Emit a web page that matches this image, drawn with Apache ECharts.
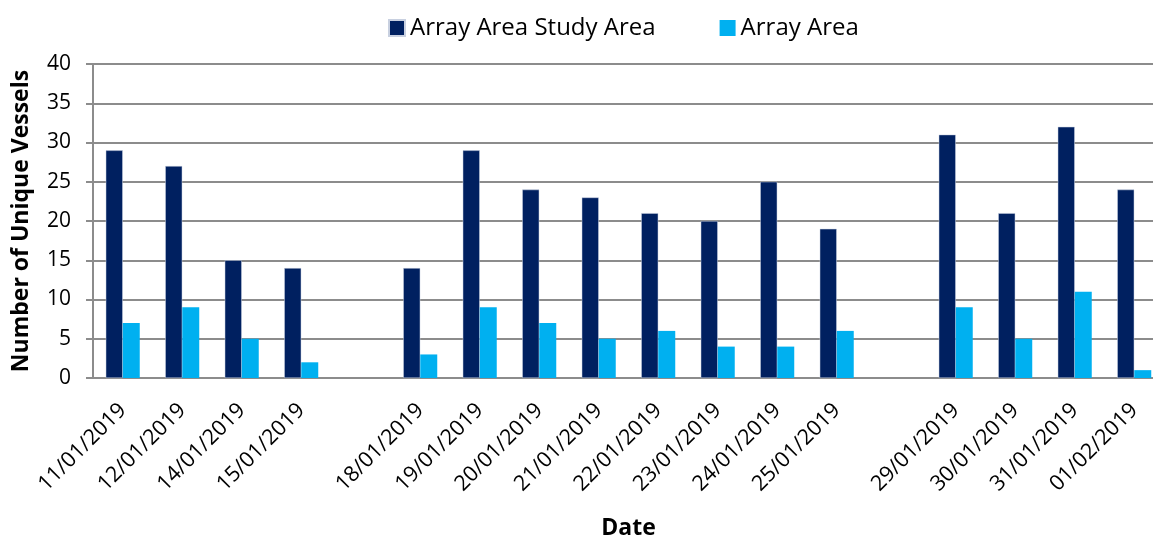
<!DOCTYPE html>
<html><head><meta charset="utf-8">
<script src="https://cdn.jsdelivr.net/npm/echarts@6/dist/echarts.min.js"></script>
<style>html,body{margin:0;padding:0;background:#fff}#c{width:1153px;height:537px}</style>
</head><body><div id="c"></div>
<script>
const categories = ['11/01/2019','12/01/2019','14/01/2019','15/01/2019','','18/01/2019','19/01/2019','20/01/2019','21/01/2019','22/01/2019','23/01/2019','24/01/2019','25/01/2019','','29/01/2019','30/01/2019','31/01/2019','01/02/2019'];
const studyArea = [29,27,15,14,null,14,29,24,23,21,20,25,19,null,31,21,32,24];
const arrayArea = [7,9,5,2,null,3,9,7,5,6,4,4,6,null,9,5,11,1];
const yTicks = {min:0,max:40,interval:5};
const FONT = '"Open Sans"';
const GRAY = '#8c8c8c';
const chart = echarts.init(document.getElementById('c'));
chart.setOption({
  animation:false,
  textStyle:{fontFamily:FONT},
  legend:{top:11,left:383,itemWidth:16,itemHeight:16,itemGap:64,icon:'rect',
    textStyle:{fontSize:24,color:'#000',fontFamily:FONT},
    data:['Array Area Study Area','Array Area']},
  grid:{left:93,top:64,width:1071,height:314,containLabel:false,outerBoundsMode:'none'},
  xAxis:{type:'category',data:categories,
    axisLine:{lineStyle:{color:GRAY,width:2}},
    axisTick:{show:false},
    axisLabel:{rotate:45,interval:0,fontSize:21.5,color:'#000',margin:29,fontFamily:FONT},
    name:'Date',nameLocation:'middle',nameGap:139,nameMoveOverlap:false,
    nameTextStyle:{fontSize:23,fontWeight:'bold',color:'#000',fontFamily:FONT}},
  yAxis:{type:'value',min:yTicks.min,max:yTicks.max,interval:yTicks.interval,
    axisLine:{show:true,lineStyle:{color:GRAY,width:2}},
    axisTick:{show:true,length:7,lineStyle:{color:GRAY,width:2}},
    splitLine:{lineStyle:{color:GRAY,width:2}},
    axisLabel:{fontSize:21,color:'#000',margin:22,fontFamily:FONT},
    name:'Number of Unique Vessels',nameLocation:'middle',nameGap:60,nameRotate:90,nameMoveOverlap:false,
    nameTextStyle:{fontSize:23,fontWeight:'bold',color:'#000',fontFamily:FONT}},
  series:[
    {name:'Array Area Study Area',type:'bar',data:studyArea,barWidth:17,barGap:'0%',
      itemStyle:{color:'#002060',borderColor:'#c8d0e0',borderWidth:0.5}},
    {name:'Array Area',type:'bar',data:arrayArea,barWidth:17,barGap:'0%',
      itemStyle:{color:'#00B0F0'}}
  ]
});
</script></body></html>
